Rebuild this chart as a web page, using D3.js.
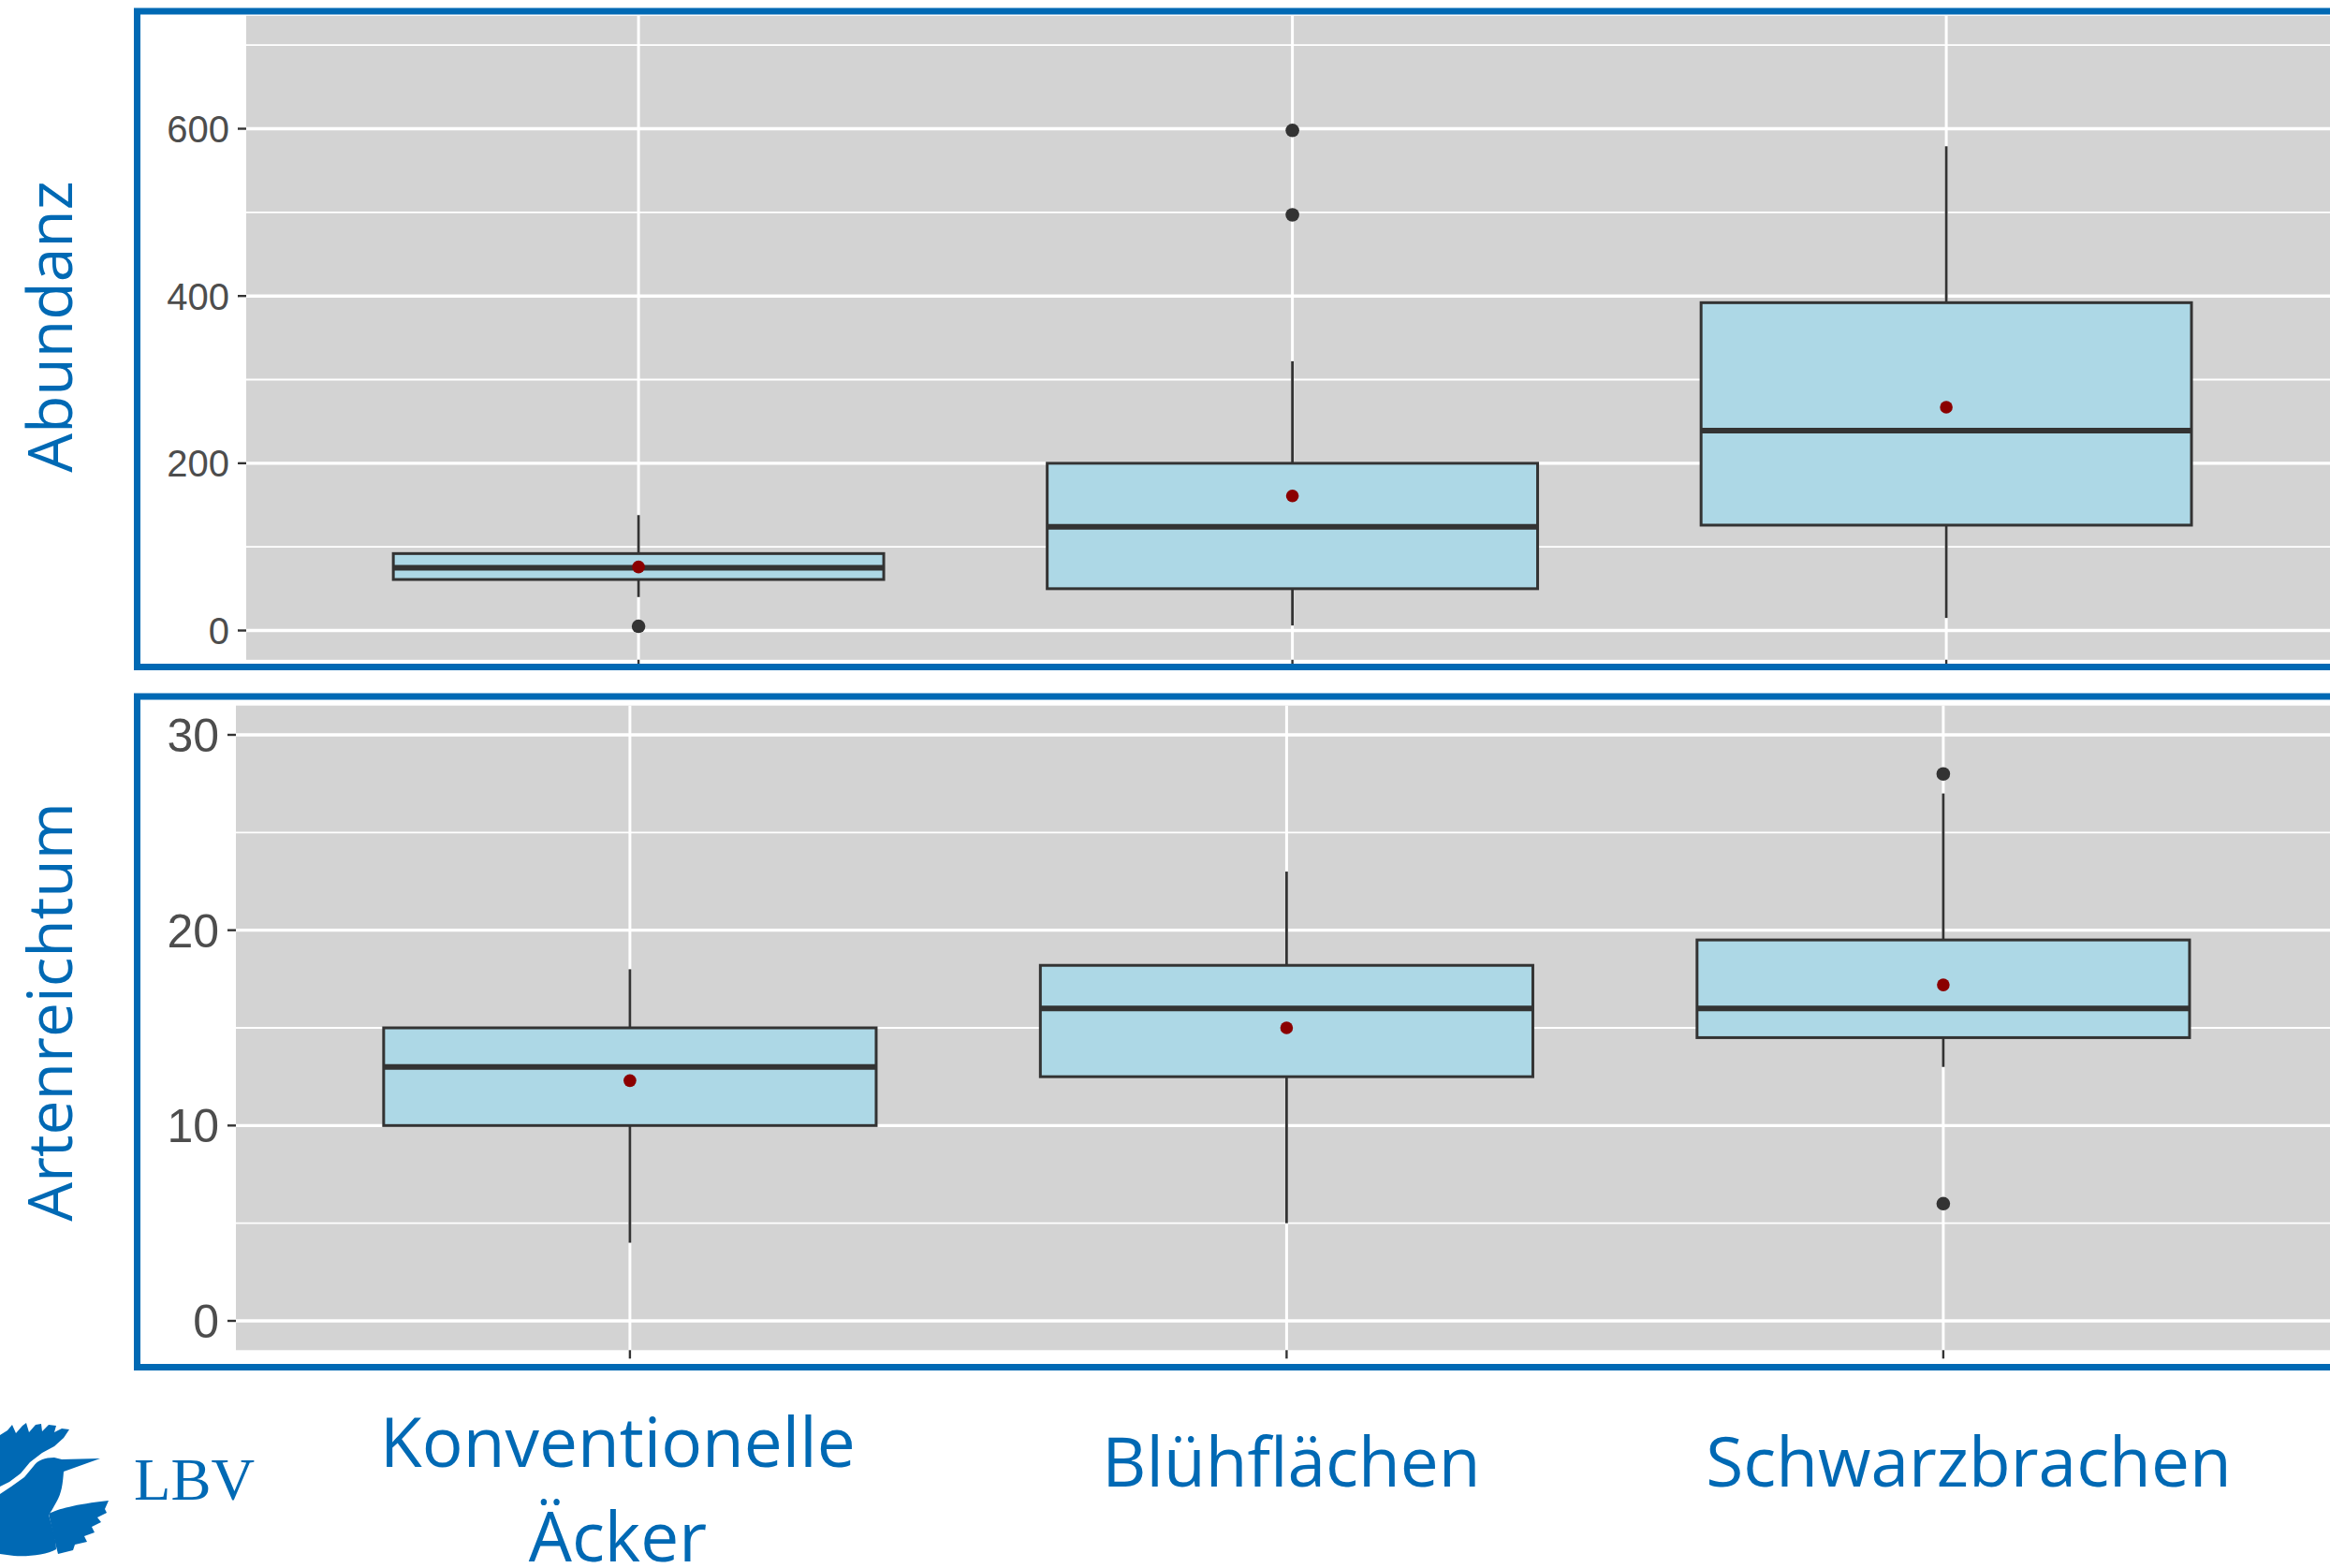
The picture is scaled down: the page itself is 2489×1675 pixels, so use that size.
<!DOCTYPE html>
<html>
<head>
<meta charset="utf-8">
<script src="https://cdn.jsdelivr.net/npm/d3@7"></script>
<style>
  html, body { margin: 0; padding: 0; background: #ffffff; }
  svg { display: block; }
</style>
</head>
<body>
<svg id="chart" width="2489" height="1675"></svg>
<script>
// ---------------- DATA ----------------
const categories = ["Konventionelle Äcker", "Blühflächen", "Schwarzbrachen"];
const categoryLabelLines = [["Konventionelle", "Äcker"], ["Blühflächen"], ["Schwarzbrachen"]];

// Abundanz (top panel)
const abundanzLower    = [40, 6, 15];
const abundanzQ1       = [61, 50, 126];
const abundanzMedian   = [75, 124, 239];
const abundanzQ3       = [92, 200, 392];
const abundanzUpper    = [138, 322, 579];
const abundanzMean     = [76, 161, 267];
const abundanzOutliers = [[5], [497, 598], []];
const abundanzTicks    = [0, 200, 400, 600];
const abundanzMinor    = [100, 300, 500, 700];
const abundanzDomain   = [-35, 735];

// Artenreichtum (bottom panel)
const artenLower    = [4, 5, 13];
const artenQ1       = [10, 12.5, 14.5];
const artenMedian   = [13, 16, 16];
const artenQ3       = [15, 18.2, 19.5];
const artenUpper    = [18, 23, 27];
const artenMean     = [12.3, 15, 17.2];
const artenOutliers = [[], [], [6, 28]];
const artenTicks    = [0, 10, 20, 30];
const artenMinor    = [5, 15, 25];
const artenDomain   = [-1.5, 31.5];

// ---------------- STYLE ----------------
const BLUE = "#0069B4";
const PANEL_BG = "#D3D3D3";
const BOX_FILL = "#ADD8E6";
const DARK = "#333333";
const MEAN_COL = "#8B0000";
const TICK_TEXT = "#4D4D4D";

const svg = d3.select("#chart");
svg.append("rect").attr("width", 2489).attr("height", 1675).attr("fill", "#fff");

function drawPanel(cfg) {
  const g = svg.append("g");
  const x = d3.scalePoint().domain(categories).range([cfg.left + 0.6 * cfg.step, cfg.left + 2.6 * cfg.step]);
  const y = d3.scaleLinear().domain(cfg.domain).range([cfg.bottom, cfg.top]);
  const right = cfg.left + 3.2 * cfg.step;

  const clipId = "clip" + cfg.id;
  svg.append("clipPath").attr("id", clipId)
    .append("rect").attr("x", cfg.clip[0]).attr("y", cfg.clip[1])
    .attr("width", cfg.clip[2]).attr("height", cfg.clip[3]);
  const inner = g.append("g").attr("clip-path", `url(#${clipId})`);

  // background
  inner.append("rect").attr("x", cfg.left).attr("y", cfg.top)
    .attr("width", right - cfg.left).attr("height", cfg.bottom - cfg.top)
    .attr("fill", PANEL_BG);

  // minor gridlines
  inner.selectAll(".minor").data(cfg.minor).join("line")
    .attr("x1", cfg.left).attr("x2", right)
    .attr("y1", d => y(d)).attr("y2", d => y(d))
    .attr("stroke", "#fff").attr("stroke-width", 1.8);
  // major gridlines
  inner.selectAll(".major").data(cfg.ticks).join("line")
    .attr("x1", cfg.left).attr("x2", right)
    .attr("y1", d => y(d)).attr("y2", d => y(d))
    .attr("stroke", "#fff").attr("stroke-width", 3.4);
  // vertical gridlines
  inner.selectAll(".vgrid").data(categories).join("line")
    .attr("x1", d => x(d)).attr("x2", d => x(d))
    .attr("y1", cfg.top).attr("y2", cfg.bottom)
    .attr("stroke", "#fff").attr("stroke-width", 3);

  const bw = 0.75 * cfg.step;
  categories.forEach((c, i) => {
    const cx = x(c);
    // whiskers
    inner.append("line").attr("x1", cx).attr("x2", cx)
      .attr("y1", y(cfg.q3[i])).attr("y2", y(cfg.upper[i]))
      .attr("stroke", DARK).attr("stroke-width", 2.8);
    inner.append("line").attr("x1", cx).attr("x2", cx)
      .attr("y1", y(cfg.q1[i])).attr("y2", y(cfg.lower[i]))
      .attr("stroke", DARK).attr("stroke-width", 2.8);
    // box
    inner.append("rect").attr("x", cx - bw / 2).attr("y", y(cfg.q3[i]))
      .attr("width", bw).attr("height", y(cfg.q1[i]) - y(cfg.q3[i]))
      .attr("fill", BOX_FILL).attr("stroke", DARK).attr("stroke-width", 3);
    // median
    inner.append("line").attr("x1", cx - bw / 2).attr("x2", cx + bw / 2)
      .attr("y1", y(cfg.median[i])).attr("y2", y(cfg.median[i]))
      .attr("stroke", DARK).attr("stroke-width", 6);
    // outliers
    cfg.outliers[i].forEach(v => {
      inner.append("circle").attr("cx", cx).attr("cy", y(v)).attr("r", 7.3).attr("fill", DARK);
    });
    // mean
    inner.append("circle").attr("cx", cx).attr("cy", y(cfg.mean[i])).attr("r", 6.8).attr("fill", MEAN_COL);
  });

  // x ticks
  g.selectAll(".xtick").data(categories).join("line")
    .attr("x1", d => x(d)).attr("x2", d => x(d))
    .attr("y1", cfg.bottom).attr("y2", cfg.bottom + 9)
    .attr("stroke", DARK).attr("stroke-width", 2.4);

  // y axis ticks + labels
  g.selectAll(".ytick").data(cfg.ticks).join("line")
    .attr("x1", cfg.left - 9).attr("x2", cfg.left)
    .attr("y1", d => y(d)).attr("y2", d => y(d))
    .attr("stroke", DARK).attr("stroke-width", 2.4);
  g.selectAll(".ylab").data(cfg.ticks).join("text")
    .attr("x", cfg.left - 18).attr("y", d => y(d))
    .attr("dy", "0.36em")
    .attr("text-anchor", "end")
    .attr("font-family", "Liberation Sans, Arial, sans-serif")
    .attr("font-size", cfg.tickFont)
    .attr("fill", TICK_TEXT)
    .text(d => d);

  // axis title
  g.append("text")
    .attr("transform", `translate(77,${cfg.titleY}) rotate(-90)`)
    .attr("text-anchor", "middle")
    .attr("font-family", "Open Sans, sans-serif")
    .attr("font-size", 66)
    .attr("fill", BLUE)
    .text(cfg.title);

  // border
  g.append("rect").attr("x", cfg.border[0]).attr("y", cfg.border[1])
    .attr("width", cfg.border[2]).attr("height", cfg.border[3])
    .attr("fill", "none").attr("stroke", BLUE).attr("stroke-width", 7);
  return x;
}

drawPanel({
  id: "top", left: 263, step: 698.5, top: 16.9, bottom: 704.8,
  domain: abundanzDomain, ticks: abundanzTicks, minor: abundanzMinor,
  lower: abundanzLower, q1: abundanzQ1, median: abundanzMedian, q3: abundanzQ3,
  upper: abundanzUpper, mean: abundanzMean, outliers: abundanzOutliers,
  tickFont: 40, title: "Abundanz", titleY: 349,
  clip: [150, 16, 2400, 694],
  border: [146.5, 12, 2500, 700.5]
});

const xb = drawPanel({
  id: "bot", left: 252, step: 701.5, top: 753.7, bottom: 1442.3,
  domain: artenDomain, ticks: artenTicks, minor: artenMinor,
  lower: artenLower, q1: artenQ1, median: artenMedian, q3: artenQ3,
  upper: artenUpper, mean: artenMean, outliers: artenOutliers,
  tickFont: 50, title: "Artenreichtum", titleY: 1081,
  clip: [150, 748, 2400, 710],
  border: [146.5, 744, 2500, 716.5]
});

// category labels below
const labelShift = [-13, 5, 27];
const labelBaseline = [[1567, 1668], [1588], [1588]];
categories.forEach((c, i) => {
  categoryLabelLines[i].forEach((line, j) => {
    svg.append("text")
      .attr("x", xb(c) + labelShift[i])
      .attr("y", labelBaseline[i][j])
      .attr("text-anchor", "middle")
      .attr("font-family", "Open Sans, sans-serif")
      .attr("font-size", 73)
      .attr("fill", BLUE)
      .text(line);
  });
});

// LBV logo
const logo = svg.append("g").attr("fill", BLUE);
logo.append("path").attr("d",
  "M0,1533 L8,1528 L13,1522 L17,1531 L24,1523 L28,1520 L31,1530 L38,1522 L44,1521 L45,1529 L52,1522 L60,1523 L58,1530 L66,1526 L74,1527 L68,1536 L58,1545 L45,1552 L32,1562 L22,1574 L10,1583 L0,1588 Z");
logo.append("path").attr("d",
  "M0,1596 L12,1588 L26,1578 L36,1566 C40,1560 48,1557 58,1557 L66,1559 L107,1558 L68,1572 C67,1585 66,1595 60,1605 C56,1612 54,1616 52,1618 C56,1632 60,1645 60,1655 C50,1661 30,1663 15,1662 L0,1660 Z");
logo.append("path").attr("d",
  "M52,1617 C62,1612 80,1607 116,1603 L112,1612 L114,1616 L104,1621 L108,1626 L98,1631 L101,1637 L90,1641 L93,1647 L80,1650 L78,1656 L62,1660 C58,1645 55,1630 52,1617 Z");
svg.append("text").attr("x", 143).attr("y", 1602)
  .attr("font-family", "Liberation Serif, Times New Roman, serif")
  .attr("font-size", 64).attr("fill", BLUE)
  .attr("textLength", 129).attr("lengthAdjust", "spacingAndGlyphs")
  .text("LBV");
</script>
</body>
</html>
